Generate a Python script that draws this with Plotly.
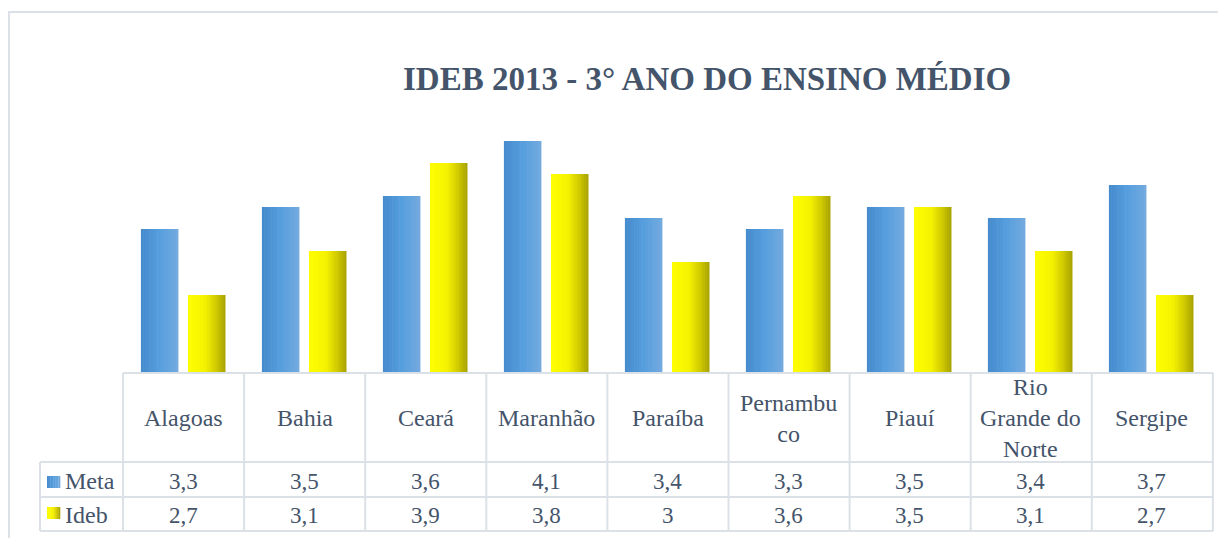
import plotly.graph_objects as go

categories = ["Alagoas", "Bahia", "Ceará", "Maranhão", "Paraíba", "Pernambuco", "Piauí", "Rio Grande do Norte", "Sergipe"]
category_labels = ["Alagoas", "Bahia", "Ceará", "Maranhão", "Paraíba", "Pernambu<br>co", "Piauí", "Rio<br>Grande do<br>Norte", "Sergipe"]
meta = [3.3, 3.5, 3.6, 4.1, 3.4, 3.3, 3.5, 3.4, 3.7]
ideb = [2.7, 3.1, 3.9, 3.8, 3.0, 3.6, 3.5, 3.1, 2.7]
series_names = ["Meta", "Ideb"]
title = "IDEB 2013 - 3° ANO DO ENSINO MÉDIO"

# page body has an 8px margin; figure is sized/offset so it lands on the 1226x538 frame
OFF = 8
W, H = 1226 - OFF, 538 - OFF
L = 123 - OFF
R = W - (1212 - OFF)
T = 97 - OFF
B = H - (372 - OFF)
PW = W - L - R
PH = H - T - B
TXT = "#44546A"
LINE = "#DCE1E8"
FONT = "Liberation Serif"


def px(x):
    return (x - OFF - L) / PW


def py(y):
    return (H - B - (y - OFF)) / PH


def interp(stops, t):
    for (t0, c0), (t1, c1) in zip(stops, stops[1:]):
        if t0 <= t <= t1:
            f = (t - t0) / (t1 - t0) if t1 > t0 else 0
            c = [round(a + (b - a) * f) for a, b in zip(c0, c1)]
            return "rgb(%d,%d,%d)" % tuple(c)
    return "rgb(%d,%d,%d)" % stops[-1][1]


blue_stops = [(0, (68, 138, 204)), (0.5, (86, 158, 222)), (1, (116, 170, 222))]
yellow_stops = [(0, (255, 255, 0)), (0.45, (246, 242, 0)), (0.75, (208, 202, 0)), (1, (166, 160, 0))]


def fmt(v):
    s = ("%.1f" % v)
    if s.endswith(".0"):
        s = s[:-2]
    return s.replace(".", ",")


fig = go.Figure()
N = 16
bar_w = 0.31
for vals, off0, stops in [(meta, -0.352, blue_stops), (ideb, 0.037, yellow_stops)]:
    sw = bar_w / N
    for i in range(N):
        t = (i + 0.5) / N
        w = sw * 1.25 if i < N - 1 else sw
        fig.add_trace(go.Bar(
            x=categories, y=vals, offset=off0 + i * sw, width=w,
            marker=dict(color=interp(stops, t), line=dict(width=0)),
            showlegend=False, hoverinfo="skip",
        ))

shapes = []


def hline(x0, x1, y):
    shapes.append(dict(type="line", xref="paper", yref="paper", x0=px(x0), x1=px(x1), y0=py(y), y1=py(y),
                       line=dict(color=LINE, width=2)))


def vline(x, y0, y1):
    shapes.append(dict(type="line", xref="paper", yref="paper", x0=px(x), x1=px(x), y0=py(y0), y1=py(y1),
                       line=dict(color=LINE, width=2)))


# outer chart border (top and left)
hline(8, 1240, 12)
vline(9, 12, 545)

# table
hline(123, 1213, 373)
hline(40, 1213, 462)
hline(40, 1213, 497)
hline(40, 1213, 531)
vline(40, 462, 531)
for k in range(len(categories) + 1):
    vline(123 + k * 121.1, 373, 531)

# legend keys
key_colors = [blue_stops, yellow_stops]
for j, yk in enumerate([476, 507]):
    steps = 8
    for s in range(steps):
        shapes.append(dict(type="rect", xref="paper", yref="paper",
                           x0=px(47 + s * 13 / steps), x1=px(47 + (s + 1.2) * 13 / steps),
                           y0=py(yk + 12), y1=py(yk),
                           fillcolor=interp(key_colors[j], (s + 0.5) / steps), line=dict(width=0)))

annotations = []
annotations.append(dict(text="<b>" + title + "</b>", xref="paper", yref="paper", x=px(707), y=py(79),
                        showarrow=False, font=dict(family=FONT, size=33, color=TXT), xanchor="center", yanchor="middle"))
for cat, lab, m, d in zip(categories, category_labels, meta, ideb):
    annotations.append(dict(text=lab, xref="x", yref="paper", x=cat, y=py(418), showarrow=False,
                            font=dict(family=FONT, size=24, color=TXT), xanchor="center", yanchor="middle"))
    annotations.append(dict(text=fmt(m), xref="x", yref="paper", x=cat, y=py(481), showarrow=False,
                            font=dict(family=FONT, size=23, color=TXT), xanchor="center", yanchor="middle"))
    annotations.append(dict(text=fmt(d), xref="x", yref="paper", x=cat, y=py(515), showarrow=False,
                            font=dict(family=FONT, size=23, color=TXT), xanchor="center", yanchor="middle"))
for name, yy in zip(series_names, [481, 515]):
    annotations.append(dict(text=name, xref="paper", yref="paper", x=px(63), y=py(yy), showarrow=False,
                            font=dict(family=FONT, size=24, color=TXT), xanchor="left", yanchor="middle"))

fig.update_layout(
    width=W, height=H,
    margin=dict(l=L, r=R, t=T, b=B),
    paper_bgcolor="white", plot_bgcolor="white",
    barmode="overlay",
    xaxis=dict(type="category", range=[-0.5, len(categories) - 0.5], visible=False),
    yaxis=dict(range=[2, 4.5], visible=False),
    shapes=shapes, annotations=annotations,
    showlegend=False,
)

fig.write_html("out.html")
